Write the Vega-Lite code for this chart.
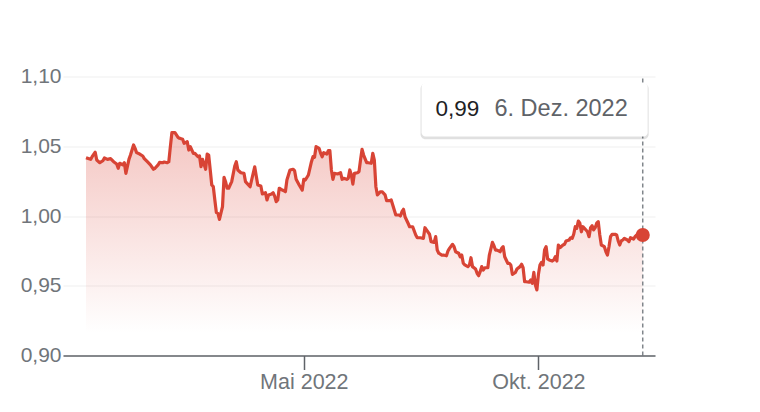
{
  "$schema": "https://vega.github.io/schema/vega-lite/v6.json",
  "width": 592,
  "height": 279,
  "autosize": {"type": "none"},
  "padding": {"left": 63, "top": 76.5, "right": 105, "bottom": 56.5},
  "background": "white",
  "config": {"view": {"stroke": null}, "font": "Liberation Sans"},
  "datasets": {
    "series": [
      {"d":"2021-12-10","v":1.0418},{"d":"2021-12-13","v":1.0406},{"d":"2021-12-14","v":1.0425},{"d":"2021-12-16","v":1.0457},{"d":"2021-12-17","v":1.0401},{"d":"2021-12-19","v":1.0382},{"d":"2021-12-21","v":1.0396},{"d":"2021-12-22","v":1.0416},{"d":"2021-12-24","v":1.0406},{"d":"2021-12-26","v":1.0411},{"d":"2021-12-28","v":1.0389},{"d":"2021-12-30","v":1.0373},{"d":"2021-12-31","v":1.0342},
      {"d":"2022-01-01","v":1.0378},{"d":"2022-01-03","v":1.0366},{"d":"2022-01-04","v":1.0382},{"d":"2022-01-05","v":1.0306},{"d":"2022-01-07","v":1.0406},{"d":"2022-01-08","v":1.0437},{"d":"2022-01-10","v":1.0509},{"d":"2022-01-11","v":1.0485},{"d":"2022-01-12","v":1.0454},{"d":"2022-01-14","v":1.0444},{"d":"2022-01-16","v":1.043},{"d":"2022-01-17","v":1.0411},{"d":"2022-01-19","v":1.0389},{"d":"2022-01-21","v":1.0366},{"d":"2022-01-23","v":1.0335},{"d":"2022-01-24","v":1.0342},{"d":"2022-01-26","v":1.0366},{"d":"2022-01-27","v":1.0385},{"d":"2022-01-29","v":1.0382},{"d":"2022-01-30","v":1.0387},
      {"d":"2022-02-01","v":1.0382},{"d":"2022-02-02","v":1.0389},{"d":"2022-02-03","v":1.0497},{"d":"2022-02-04","v":1.0597},{"d":"2022-02-06","v":1.0597},{"d":"2022-02-08","v":1.0564},{"d":"2022-02-09","v":1.0557},{"d":"2022-02-11","v":1.055},{"d":"2022-02-12","v":1.0521},{"d":"2022-02-14","v":1.0533},{"d":"2022-02-15","v":1.0473},{"d":"2022-02-16","v":1.0497},{"d":"2022-02-18","v":1.0449},{"d":"2022-02-19","v":1.0449},{"d":"2022-02-21","v":1.0425},{"d":"2022-02-22","v":1.043},{"d":"2022-02-23","v":1.0353},{"d":"2022-02-24","v":1.0406},{"d":"2022-02-26","v":1.0335},{"d":"2022-02-27","v":1.0444},{"d":"2022-02-28","v":1.0437},
      {"d":"2022-03-01","v":1.033},{"d":"2022-03-02","v":1.0222},{"d":"2022-03-03","v":1.021},{"d":"2022-03-04","v":1.0115},{"d":"2022-03-05","v":1.0024},{"d":"2022-03-06","v":1.0019},{"d":"2022-03-07","v":0.9976},{"d":"2022-03-09","v":1.0067},{"d":"2022-03-10","v":1.0277},{"d":"2022-03-11","v":1.0246},{"d":"2022-03-12","v":1.0199},{"d":"2022-03-13","v":1.0199},{"d":"2022-03-15","v":1.0246},{"d":"2022-03-17","v":1.0358},{"d":"2022-03-18","v":1.0389},{"d":"2022-03-19","v":1.033},{"d":"2022-03-21","v":1.031},{"d":"2022-03-23","v":1.0306},{"d":"2022-03-24","v":1.0246},{"d":"2022-03-25","v":1.0234},{"d":"2022-03-27","v":1.021},{"d":"2022-03-28","v":1.0258},{"d":"2022-03-30","v":1.0353},{"d":"2022-03-31","v":1.0287},
      {"d":"2022-04-01","v":1.0222},{"d":"2022-04-03","v":1.0215},{"d":"2022-04-04","v":1.0158},{"d":"2022-04-06","v":1.0167},{"d":"2022-04-07","v":1.0115},{"d":"2022-04-08","v":1.0151},{"d":"2022-04-10","v":1.0158},{"d":"2022-04-11","v":1.0167},{"d":"2022-04-12","v":1.0143},{"d":"2022-04-13","v":1.0103},{"d":"2022-04-14","v":1.0115},{"d":"2022-04-15","v":1.0199},{"d":"2022-04-17","v":1.0186},{"d":"2022-04-18","v":1.0181},{"d":"2022-04-19","v":1.0174},{"d":"2022-04-20","v":1.0258},{"d":"2022-04-22","v":1.033},{"d":"2022-04-24","v":1.0335},{"d":"2022-04-25","v":1.0325},{"d":"2022-04-26","v":1.0263},{"d":"2022-04-28","v":1.0222},{"d":"2022-04-30","v":1.0186},
      {"d":"2022-05-01","v":1.0263},{"d":"2022-05-02","v":1.0258},{"d":"2022-05-04","v":1.0294},{"d":"2022-05-06","v":1.0389},{"d":"2022-05-07","v":1.0425},{"d":"2022-05-08","v":1.0421},{"d":"2022-05-09","v":1.0497},{"d":"2022-05-11","v":1.0485},{"d":"2022-05-12","v":1.0449},{"d":"2022-05-13","v":1.0425},{"d":"2022-05-14","v":1.0454},{"d":"2022-05-16","v":1.0444},{"d":"2022-05-17","v":1.0468},{"d":"2022-05-18","v":1.0468},{"d":"2022-05-19","v":1.033},{"d":"2022-05-20","v":1.0263},{"d":"2022-05-21","v":1.0306},{"d":"2022-05-23","v":1.0301},{"d":"2022-05-25","v":1.031},{"d":"2022-05-26","v":1.0263},{"d":"2022-05-27","v":1.027},{"d":"2022-05-29","v":1.0263},{"d":"2022-05-30","v":1.027},{"d":"2022-05-31","v":1.033},
      {"d":"2022-06-01","v":1.0294},{"d":"2022-06-02","v":1.0229},{"d":"2022-06-03","v":1.0306},{"d":"2022-06-05","v":1.031},{"d":"2022-06-06","v":1.0318},{"d":"2022-06-07","v":1.0401},{"d":"2022-06-08","v":1.0478},{"d":"2022-06-09","v":1.0437},{"d":"2022-06-11","v":1.0382},{"d":"2022-06-12","v":1.0382},{"d":"2022-06-14","v":1.0378},{"d":"2022-06-15","v":1.0449},{"d":"2022-06-16","v":1.0401},{"d":"2022-06-17","v":1.021},{"d":"2022-06-18","v":1.0151},{"d":"2022-06-20","v":1.0174},{"d":"2022-06-21","v":1.0174},{"d":"2022-06-23","v":1.0151},{"d":"2022-06-24","v":1.011},{"d":"2022-06-26","v":1.011},{"d":"2022-06-27","v":1.0115},{"d":"2022-06-29","v":1.0043},{"d":"2022-06-30","v":1.0007},
      {"d":"2022-07-02","v":1.0007},{"d":"2022-07-03","v":1.0},{"d":"2022-07-04","v":1.0031},{"d":"2022-07-05","v":1.0048},{"d":"2022-07-06","v":0.9995},{"d":"2022-07-08","v":0.9948},{"d":"2022-07-09","v":0.9923},{"d":"2022-07-11","v":0.9923},{"d":"2022-07-13","v":0.9864},{"d":"2022-07-14","v":0.9844},{"d":"2022-07-16","v":0.9844},{"d":"2022-07-18","v":0.984},{"d":"2022-07-19","v":0.9916},{"d":"2022-07-20","v":0.99},{"d":"2022-07-22","v":0.9869},{"d":"2022-07-23","v":0.9816},{"d":"2022-07-25","v":0.9811},{"d":"2022-07-26","v":0.9852},{"d":"2022-07-27","v":0.9756},{"d":"2022-07-28","v":0.9733},{"d":"2022-07-30","v":0.972},{"d":"2022-07-31","v":0.972},
      {"d":"2022-08-02","v":0.9715},{"d":"2022-08-03","v":0.9749},{"d":"2022-08-04","v":0.9768},{"d":"2022-08-06","v":0.9797},{"d":"2022-08-07","v":0.978},{"d":"2022-08-08","v":0.9744},{"d":"2022-08-10","v":0.9733},{"d":"2022-08-11","v":0.9708},{"d":"2022-08-12","v":0.972},{"d":"2022-08-13","v":0.9661},{"d":"2022-08-14","v":0.9649},{"d":"2022-08-16","v":0.9637},{"d":"2022-08-17","v":0.9649},{"d":"2022-08-18","v":0.9701},{"d":"2022-08-19","v":0.9637},{"d":"2022-08-21","v":0.962},{"d":"2022-08-22","v":0.9589},{"d":"2022-08-23","v":0.9572},{"d":"2022-08-24","v":0.9601},{"d":"2022-08-25","v":0.9637},{"d":"2022-08-26","v":0.9613},{"d":"2022-08-27","v":0.9629},{"d":"2022-08-29","v":0.9629},{"d":"2022-08-30","v":0.972},
      {"d":"2022-09-01","v":0.9811},{"d":"2022-09-02","v":0.9787},{"d":"2022-09-03","v":0.9756},{"d":"2022-09-04","v":0.9756},{"d":"2022-09-06","v":0.9744},{"d":"2022-09-07","v":0.9768},{"d":"2022-09-08","v":0.978},{"d":"2022-09-09","v":0.9708},{"d":"2022-09-11","v":0.9661},{"d":"2022-09-12","v":0.9661},{"d":"2022-09-13","v":0.9649},{"d":"2022-09-14","v":0.9582},{"d":"2022-09-16","v":0.9596},{"d":"2022-09-17","v":0.962},{"d":"2022-09-19","v":0.9637},{"d":"2022-09-20","v":0.9654},{"d":"2022-09-21","v":0.9629},{"d":"2022-09-22","v":0.9529},{"d":"2022-09-23","v":0.9529},{"d":"2022-09-25","v":0.9525},{"d":"2022-09-26","v":0.9541},{"d":"2022-09-27","v":0.9518},{"d":"2022-09-28","v":0.9596},{"d":"2022-09-29","v":0.9505},{"d":"2022-09-30","v":0.947},
      {"d":"2022-10-01","v":0.9582},{"d":"2022-10-02","v":0.9649},{"d":"2022-10-03","v":0.9668},{"d":"2022-10-04","v":0.9649},{"d":"2022-10-05","v":0.9756},{"d":"2022-10-06","v":0.978},{"d":"2022-10-07","v":0.9692},{"d":"2022-10-08","v":0.9685},{"d":"2022-10-10","v":0.9677},{"d":"2022-10-11","v":0.9685},{"d":"2022-10-12","v":0.9708},{"d":"2022-10-13","v":0.9677},{"d":"2022-10-14","v":0.9792},{"d":"2022-10-15","v":0.9773},{"d":"2022-10-17","v":0.9792},{"d":"2022-10-18","v":0.9797},{"d":"2022-10-19","v":0.9821},{"d":"2022-10-21","v":0.9828},{"d":"2022-10-22","v":0.9844},{"d":"2022-10-23","v":0.984},{"d":"2022-10-24","v":0.9869},{"d":"2022-10-25","v":0.9923},{"d":"2022-10-26","v":0.9912},{"d":"2022-10-27","v":0.9964},{"d":"2022-10-28","v":0.9948},{"d":"2022-10-29","v":0.9887},{"d":"2022-10-30","v":0.9923},{"d":"2022-10-31","v":0.9912},
      {"d":"2022-11-02","v":0.9887},{"d":"2022-11-03","v":0.9852},{"d":"2022-11-04","v":0.9916},{"d":"2022-11-05","v":0.993},{"d":"2022-11-06","v":0.99},{"d":"2022-11-07","v":0.9916},{"d":"2022-11-08","v":0.9948},{"d":"2022-11-09","v":0.9959},{"d":"2022-11-10","v":0.9864},{"d":"2022-11-11","v":0.9792},{"d":"2022-11-13","v":0.978},{"d":"2022-11-14","v":0.9744},{"d":"2022-11-15","v":0.972},{"d":"2022-11-16","v":0.978},{"d":"2022-11-17","v":0.9852},{"d":"2022-11-18","v":0.9869},{"d":"2022-11-20","v":0.9869},{"d":"2022-11-21","v":0.9864},{"d":"2022-11-22","v":0.9821},{"d":"2022-11-23","v":0.9792},{"d":"2022-11-24","v":0.9821},{"d":"2022-11-25","v":0.9828},{"d":"2022-11-26","v":0.984},{"d":"2022-11-28","v":0.9828},{"d":"2022-11-29","v":0.9816},{"d":"2022-11-30","v":0.9844},
      {"d":"2022-12-01","v":0.984},{"d":"2022-12-02","v":0.9835},{"d":"2022-12-03","v":0.9852},{"d":"2022-12-04","v":0.9864},{"d":"2022-12-05","v":0.9859},{"d":"2022-12-07","v":0.9859},{"d":"2022-12-08","v":0.9864}
    ],
    "tip": [
      {"d":"2022-12-08","v":0.9864,"value":"0,99","date":"6. Dez. 2022"}
    ]
  },
  "layer": [
    {
      "data": {"name": "series"},
      "mark": {
        "type": "area",
        "color": {
          "gradient": "linear", "x1": 0, "y1": 0, "x2": 0, "y2": 1,
          "stops": [
            {"offset": 0, "color": "rgba(219,68,55,0.3)"},
            {"offset": 0.9, "color": "rgba(219,68,55,0)"}
          ]
        }
      },
      "encoding": {
        "x": {
          "field": "d", "type": "temporal",
          "scale": {"type": "utc", "domain": [{"year": 2021, "month": 11, "date": 25, "utc": true}, {"year": 2022, "month": 12, "date": 16, "utc": true}]},
          "axis": {
            "title": null, "grid": false,
            "values": [{"year": 2022, "month": 5, "date": 1, "utc": true}, {"year": 2022, "month": 10, "date": 1, "utc": true}],
            "labelExpr": "utcmonth(datum.value) == 4 ? 'Mai 2022' : 'Okt. 2022'",
            "domainColor": "#5f6368", "domainWidth": 1.5,
            "tickColor": "#5f6368", "tickWidth": 1.5, "tickSize": 14,
            "labelPadding": 2, "labelFontSize": 21.5, "labelColor": "#70757a", "labelFont": "Liberation Sans",
            "zindex": 1
          }
        },
        "y": {
          "field": "v", "type": "quantitative",
          "scale": {"domain": [0.9, 1.1], "nice": false, "zero": false},
          "axis": {
            "title": null, "domain": false, "ticks": false,
            "values": [0.9, 0.95, 1.0, 1.05, 1.1],
            "labelExpr": "replace(format(datum.value, '.2f'), '.', ',')",
            "gridColor": "#efefef", "gridWidth": 1,
            "labelPadding": 2, "labelFontSize": 21, "labelColor": "#70757a", "labelFont": "Liberation Sans"
          }
        },
        "y2": {"datum": 0.9}
      }
    },
    {
      "data": {"name": "series"},
      "mark": {"type": "line", "color": "#d84435", "strokeWidth": 3.2, "strokeJoin": "round"},
      "encoding": {
        "x": {"field": "d", "type": "temporal"},
        "y": {"field": "v", "type": "quantitative"}
      }
    },
    {
      "data": {"name": "tip"},
      "mark": {"type": "rule", "color": "#80868b", "strokeDash": [4, 3], "strokeWidth": 1.5},
      "encoding": {
        "x": {"field": "d", "type": "temporal"},
        "y": {"datum": 0.9},
        "y2": {"datum": 1.1}
      }
    },
    {
      "data": {"name": "tip"},
      "mark": {"type": "point", "filled": true, "size": 200, "color": "#d84435", "opacity": 1},
      "encoding": {
        "x": {"field": "d", "type": "temporal"},
        "y": {"field": "v", "type": "quantitative"}
      }
    },
    {
      "data": {"name": "tip"},
      "mark": {"type": "rect", "color": "#000000", "opacity": 0.12, "cornerRadius": 5},
      "encoding": {
        "x": {"datum": {"year": 2022, "month": 7, "date": 16, "hours": 3, "utc": true}, "type": "temporal"},
        "x2": {"datum": {"year": 2022, "month": 12, "date": 11, "hours": 21, "utc": true}},
        "y": {"datum": 1.055},
        "y2": {"datum": 1.0948}
      }
    },
    {
      "data": {"name": "tip"},
      "mark": {"type": "rect", "color": "#ffffff", "opacity": 1, "cornerRadius": 4},
      "encoding": {
        "x": {"datum": {"year": 2022, "month": 7, "date": 16, "hours": 19, "utc": true}, "type": "temporal"},
        "x2": {"datum": {"year": 2022, "month": 12, "date": 11, "hours": 5, "utc": true}},
        "y": {"datum": 1.057},
        "y2": {"datum": 1.0953}
      }
    },
    {
      "data": {"name": "tip"},
      "mark": {"type": "text", "align": "left", "baseline": "alphabetic", "fontSize": 22.5, "color": "#202124", "font": "Liberation Sans"},
      "encoding": {
        "x": {"datum": {"year": 2022, "month": 7, "date": 25, "hours": 22, "utc": true}, "type": "temporal"},
        "y": {"datum": 1.0717},
        "text": {"field": "value"}
      }
    },
    {
      "data": {"name": "tip"},
      "mark": {"type": "text", "align": "left", "baseline": "alphabetic", "fontSize": 23.5, "color": "#5f6368", "font": "Liberation Sans"},
      "encoding": {
        "x": {"datum": {"year": 2022, "month": 9, "date": 2, "hours": 8, "utc": true}, "type": "temporal"},
        "y": {"datum": 1.0717},
        "text": {"field": "date"}
      }
    }
  ]
}
